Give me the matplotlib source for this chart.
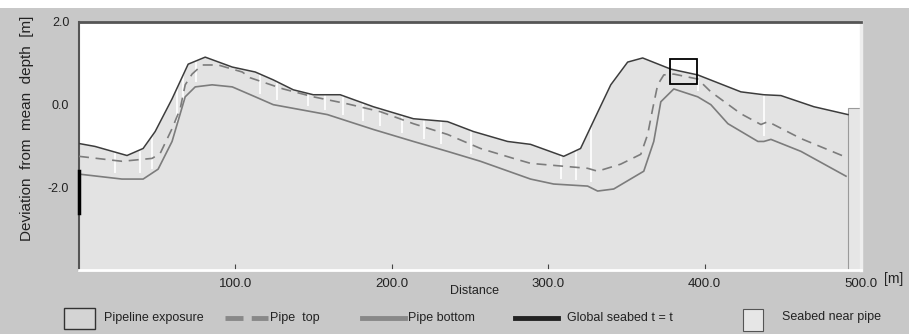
import numpy as np
import matplotlib.pyplot as plt
from matplotlib.patches import Rectangle
from matplotlib.lines import Line2D

# global seabed (distance [m], deviation [m])
seabed_x = [0, 10.2, 30.7, 41, 48.7, 59.5, 69.8, 80.7, 98, 112.7, 124.2, 137, 149.8, 167,
            188.2, 213.8, 235.6, 252.2, 274, 288.7, 309.9, 320.7, 330.3, 340, 350.8, 360.4,
            378.4, 395.6, 423.2, 437.9, 448.8, 469.9, 491.7]
seabed_y = [-0.94, -1.01, -1.23, -1.06, -0.65, 0.14, 0.98, 1.15, 0.91, 0.79, 0.60, 0.36, 0.24, 0.24,
            -0.05, -0.34, -0.41, -0.65, -0.89, -0.96, -1.25, -1.06, -0.29, 0.48, 1.03, 1.13,
            0.86, 0.72, 0.31, 0.24, 0.22, -0.05, -0.24]

# pipe top
top_x = [0, 27.5, 46.7, 51.9, 59.5, 64.7, 67.9, 72.3, 78.7, 89, 104.4, 109.5, 130.6, 149.8,
         171.6, 192.7, 213.8, 235.6, 256.7, 277.8, 288.7, 309.9, 325.2, 331.6, 346.3, 359.2,
         363.6, 366.8, 370, 373.9, 380.3, 395.6, 404, 423.2, 436, 440.5, 461.6, 489.1]
top_y = [-1.25, -1.37, -1.30, -1.18, -0.58, -0.10, 0.48, 0.74, 0.96, 0.96, 0.79, 0.65, 0.38, 0.19,
         0.02, -0.17, -0.46, -0.72, -1.06, -1.30, -1.42, -1.49, -1.54, -1.61, -1.44, -1.20,
         -0.72, -0.10, 0.48, 0.72, 0.74, 0.62, 0.31, -0.22, -0.48, -0.41, -0.82, -1.25]

# pipe bottom
bot_x = [0, 27.5, 41, 50.6, 59.5, 67.9, 74.3, 85.1, 98, 112.7, 124.2, 158.8, 188.2, 213.8,
         235.6, 256.7, 288.7, 303.5, 325.2, 331.6, 341.9, 361.1, 367.5, 372, 380.3, 395.6,
         404, 414.9, 434.1, 437.9, 442.4, 461.6, 490.4]
bot_y = [-1.68, -1.80, -1.80, -1.56, -0.89, 0.19, 0.43, 0.48, 0.43, 0.19, 0.0, -0.24, -0.60, -0.89,
         -1.13, -1.37, -1.80, -1.92, -1.97, -2.09, -2.04, -1.61, -0.89, 0.07, 0.38, 0.19,
         0.0, -0.46, -0.89, -0.89, -0.84, -1.13, -1.73]

# exposure marks along the pipe
exposure_x = [23, 39, 46.7, 62.7, 66.6, 74.9, 115.9, 126.8, 146.7, 157.6, 169, 181.9, 192.7,
              206.8, 220.3, 231.2, 250.4, 307.9, 317.5, 327.1, 395.6, 437.9]

xticks = [100, 200, 300, 400, 500]
yticks = [2, 0, -2]

bg = '#c8c8c8'
fill = '#e3e3e3'
font = ['Liberation Sans', 'DejaVu Sans']
plt.rcParams['font.family'] = font

fig = plt.figure(figsize=(9.09, 3.34), dpi=100)
fig.patch.set_facecolor(bg)
fig.patches.append(Rectangle((0, 1 - 8 / 334), 1, 8 / 334, transform=fig.transFigure,
                             facecolor='white', edgecolor='none', zorder=0))

ax = fig.add_axes([79 / 909, 64 / 334, 782 / 909, 248 / 334])
ax.set_facecolor('white')
ax.set_xlim(0, 500)
ax.set_ylim(-4, 2)

ax.fill_between(seabed_x, seabed_y, -4, color=fill, lw=0, zorder=1)
# seabed near pipe box at the right end
ax.add_patch(Rectangle((seabed_x[-1], -4), 500 - seabed_x[-1], 3.93, facecolor='#e6e6e6',
                       edgecolor='#9a9a9a', lw=0.8, zorder=1))

# white exposure lines
ex = np.array(exposure_x)
s = np.interp(ex, seabed_x, seabed_y)
t = np.interp(ex, top_x, top_y)
b = np.interp(ex, bot_x, bot_y)
ax.vlines(ex, t + 0.7 * (b - t), s, colors='white', lw=1.2, zorder=2)

ax.plot(bot_x, bot_y, color='#7c7c7c', lw=1.2, zorder=3)
ax.plot(top_x, top_y, color='#7c7c7c', lw=1.2, dashes=(6, 4), zorder=3)
ax.plot(seabed_x, seabed_y, color='#3c3c3c', lw=1.1, zorder=4)
ax.plot([0, 0], [-1.61, -2.61], color='black', lw=2.5, zorder=5, clip_on=False)

# pipeline exposure box
ax.add_patch(Rectangle((377.7, 0.50), 17.3, 0.60, facecolor='none', edgecolor='black',
                       lw=1.3, zorder=6))

ax.set_xticks(xticks)
ax.set_xticklabels(['%.1f' % v for v in xticks], fontsize=9.5, color='#222222')
ax.set_yticks(yticks)
ax.set_yticklabels(['%.1f' % v for v in yticks], fontsize=9, color='#222222')
ax.tick_params(axis='x', direction='in', length=4, width=0.8, color='#444444', pad=6)
ax.tick_params(axis='y', length=0, pad=7)

ax.spines['top'].set_color('#555555')
ax.spines['top'].set_linewidth(2)
ax.spines['left'].set_color('#555555')
ax.spines['left'].set_linewidth(1.5)
ax.spines['bottom'].set_color('white')
ax.spines['bottom'].set_linewidth(2)
ax.spines['right'].set_color('#eeeeee')
ax.spines['right'].set_linewidth(2.5)

fig.text(475 / 909, 1 - 291 / 334, 'Distance', ha='center', va='center', fontsize=9, color='#222222')
fig.text(884 / 909, 1 - 279 / 334, '[m]', ha='left', va='center', fontsize=10, color='#222222')
fig.text(27 / 909, 1 - 128 / 334, 'Deviation  from  mean  depth  [m]', rotation=90,
         ha='center', va='center', fontsize=11, color='#222222')

# legend row
ly = 1 - 318 / 334
fs = 9
fig.patches.append(Rectangle((64 / 909, 1 - 329 / 334), 31 / 909, 21 / 334, transform=fig.transFigure,
                             facecolor='#d4d4d4', edgecolor='#333333', lw=1))
fig.text(104 / 909, ly, 'Pipeline exposure', ha='left', va='center', fontsize=fs, color='#222222')
fig.lines.append(Line2D([225 / 909, 268 / 909], [ly, ly], transform=fig.transFigure,
                        color='#888888', lw=3.5, dashes=(3.7, 1.7)))
fig.text(270 / 909, ly, 'Pipe  top', ha='left', va='center', fontsize=fs, color='#222222')
fig.lines.append(Line2D([362 / 909, 405 / 909], [ly, ly], transform=fig.transFigure,
                        color='#888888', lw=3.5))
fig.text(408 / 909, ly, 'Pipe bottom', ha='left', va='center', fontsize=fs, color='#222222')
fig.lines.append(Line2D([515 / 909, 558 / 909], [ly, ly], transform=fig.transFigure,
                        color='#222222', lw=3.5))
fig.text(567 / 909, ly, 'Global seabed t = t', ha='left', va='center', fontsize=fs, color='#222222')
fig.patches.append(Rectangle((743 / 909, 1 - 331 / 334), 20 / 909, 22 / 334, transform=fig.transFigure,
                             facecolor='#e6e6e6', edgecolor='#555555', lw=0.8))
fig.text(782 / 909, ly + 0.004, 'Seabed near pipe', ha='left', va='center', fontsize=fs, color='#222222')

fig.savefig('out.png', dpi=100, facecolor=fig.get_facecolor())
